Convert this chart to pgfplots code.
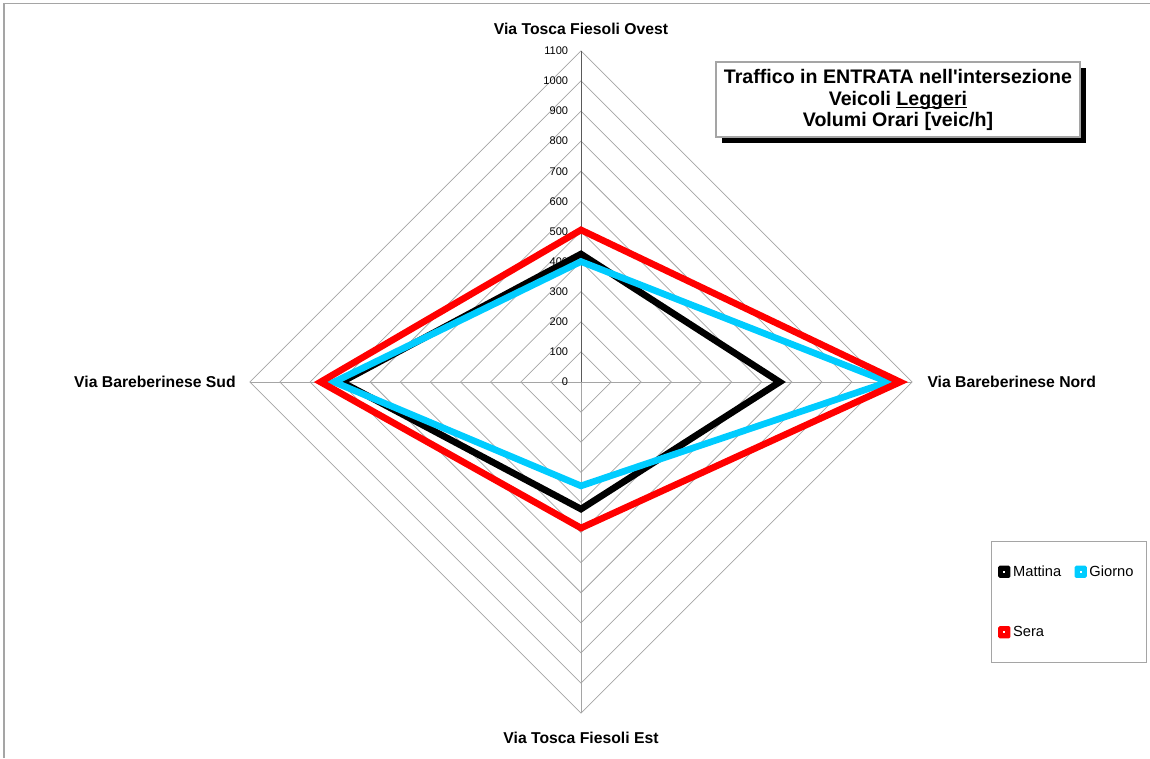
\documentclass[border=0pt]{standalone}
\usepackage{fontspec}
\setmainfont{Liberation Sans}
\usepackage{pgfplots}
\pgfplotsset{compat=1.18}
\definecolor{giorno}{RGB}{0,204,255}
\definecolor{sera}{RGB}{255,0,0}
\definecolor{gridgray}{RGB}{165,165,165}
\definecolor{axisgray}{RGB}{90,90,90}

\begin{document}
\begin{tikzpicture}[x=0.75pt,y=0.75pt]
\useasboundingbox (0,0) rectangle (1150,758);
\draw[gridgray, line width=1.1pt] (4,0) -- (4,754.5) -- (1150,754.5);

\begin{axis}[
    at={(435.75pt,282pt)}, anchor=center,
    x=0.2258pt, y=0.2258pt,
    xmin=-1100, xmax=1100, ymin=-1100, ymax=1100,
    hide axis, clip=false,
    line join=miter, miter limit=20,
    legend columns=2,
    legend cell align=left,
    legend style={
        at={(1.119,0.26)}, anchor=north west,
        draw=gridgray, line width=0.8pt,
        font=\fontsize{11}{13}\selectfont,
        inner xsep=5pt, inner ysep=16pt,
        row sep=32pt,
        /tikz/every even column/.append style={column sep=8pt},
    },
    legend image code/.code={
        \fill[#1, draw=none, rounded corners=1.2pt] (0,-4.6pt) rectangle (9.2pt,4.6pt);
        \fill[white, draw=none] (3.8pt,-0.8pt) rectangle (5.4pt,0.8pt);
    },
]
% grid rings
\pgfplotsinvokeforeach{100,200,300,400,500,600,700,800,900,1000,1100}{
    \addplot[gridgray, line width=0.55pt, forget plot] coordinates {(0,#1) (#1,0) (0,-#1) (-#1,0)} -- cycle;
}
% spokes
\addplot[gridgray, line width=0.55pt, forget plot] coordinates {(-1100,0) (1100,0)};
\addplot[gridgray, line width=0.55pt, forget plot] coordinates {(0,0) (0,-1100)};
\addplot[axisgray, line width=0.75pt, forget plot] coordinates {(0,0) (0,1100)};
% tick labels
\pgfplotsinvokeforeach{0,100,200,300,400,500,600,700,800,900,1000,1100}{
    \node[anchor=east, inner sep=0pt, font=\fontsize{8.3}{10}\selectfont] at (axis cs:-42,#1) {#1};
}
% category labels
\node[font=\bfseries\fontsize{11.8}{13}\selectfont] at (axis cs:0,1173) {Via Tosca Fiesoli Ovest};
\node[anchor=west, inner sep=0pt, font=\bfseries\fontsize{11.8}{13}\selectfont] at (axis cs:1150,0) {Via Bareberinese Nord};
\node[anchor=east, inner sep=0pt, font=\bfseries\fontsize{11.8}{13}\selectfont] at (axis cs:-1146,0) {Via Bareberinese Sud};
\node[font=\bfseries\fontsize{11.8}{13}\selectfont] at (axis cs:0,-1183) {Via Tosca Fiesoli Est};

% data: Ovest (top), Nord (right), Est (bottom), Sud (left)
\addplot[black, line width=5pt] coordinates {(0,425) (660,0) (0,-422) (-795,0)} -- cycle;
\addlegendentry{Mattina}
\addplot[giorno, line width=5pt] coordinates {(0,400) (1020,0) (0,-345) (-820,0)} -- cycle;
\addlegendentry{Giorno\hspace*{3pt}}
\addplot[sera, line width=5pt] coordinates {(0,505) (1060,0) (0,-485) (-865,0)} -- cycle;
\addlegendentry{Sera}
\end{axis}

% title box
\fill[black] (722,{758-143}) rectangle (1086,{758-68});
\draw[gridgray, line width=0.8pt, fill=white] (716,{758-62}) rectangle (1080,{758-137});
\node[align=center, font=\bfseries\fontsize{14.7}{16.2}\selectfont] at (898,{758-100})
    {Traffico in ENTRATA nell\textquotesingle intersezione\\
     Veicoli {\setbox0\hbox{Leggeri}\rlap{\rule[-2.3pt]{\wd0}{1pt}}\box0}\\
     Volumi Orari [veic/h]};
\end{tikzpicture}
\end{document}
